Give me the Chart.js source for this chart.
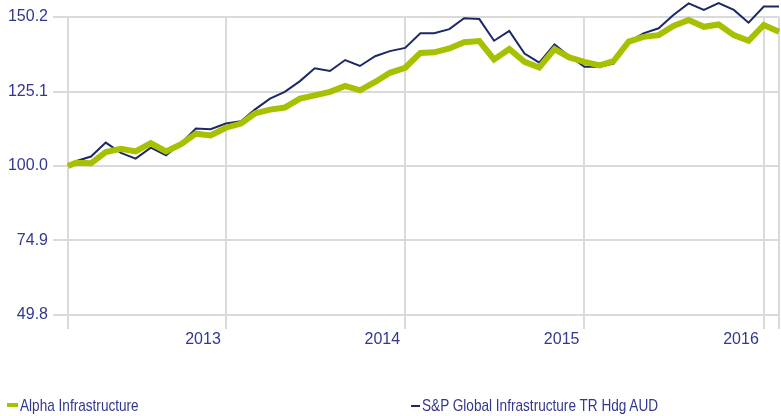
<!DOCTYPE html>
<html>
<head>
<meta charset="utf-8">
<script src="https://cdn.jsdelivr.net/npm/chart.js@4.4.1/dist/chart.umd.min.js"></script>
<style>
    body { margin: 0; background: #fff; }
    #wrap { position: relative; width: 781px; height: 416px; }
    #legend {
        position: absolute; left: 0; top: 396px; width: 781px; height: 20px;
        font-family: 'Liberation Sans', Arial, sans-serif;
        font-size: 17px; color: #33388f;
    }
    .item { position: absolute; top: 0; white-space: nowrap; line-height: 20px; }
    .mark { position: absolute; left: 0; }
    .txt { display: inline-block; transform: scaleX(0.8); transform-origin: left center; }
</style>
</head>
<body>
<div id="wrap">
    <canvas id="lineChart" width="781" height="416"></canvas>
    <div id="legend"></div>
</div>
<script>
// Dates (start point, then month ends)
const dates = [
    '2012-02-13', '2012-02-29', '2012-03-31', '2012-04-30', '2012-05-31', '2012-06-30',
    '2012-07-31', '2012-08-31', '2012-09-30', '2012-10-31', '2012-11-30', '2012-12-31',
    '2013-01-31', '2013-02-28', '2013-03-31', '2013-04-30', '2013-05-31', '2013-06-30',
    '2013-07-31', '2013-08-31', '2013-09-30', '2013-10-31', '2013-11-30', '2013-12-31',
    '2014-01-31', '2014-02-28', '2014-03-31', '2014-04-30', '2014-05-31', '2014-06-30',
    '2014-07-31', '2014-08-31', '2014-09-30', '2014-10-31', '2014-11-30', '2014-12-31',
    '2015-01-31', '2015-02-28', '2015-03-31', '2015-04-30', '2015-05-31', '2015-06-30',
    '2015-07-31', '2015-08-31', '2015-09-30', '2015-10-31', '2015-11-30', '2015-12-31',
    '2016-01-31'
];

const alphaValues = [
    100.0, 101.1, 100.9, 104.7, 105.8, 104.9, 107.7, 104.9, 107.3, 110.9, 110.3, 112.9,
    114.3, 117.7, 119.0, 119.7, 122.7, 123.8, 125.0, 127.0, 125.5, 128.3, 131.4, 133.1,
    138.1, 138.3, 139.6, 141.7, 142.1, 135.9, 139.4, 135.1, 133.2, 139.4, 136.6, 135.1,
    133.9, 135.3, 141.9, 143.5, 144.1, 147.2, 149.2, 146.9, 147.7, 144.1, 142.2, 147.5,
    145.2
];

const benchValues = [
    100.0, 101.6, 103.2, 107.9, 104.4, 102.5, 106.2, 103.6, 107.5, 112.6, 112.4, 114.3,
    115.1, 119.0, 122.7, 125.0, 128.6, 132.9, 132.0, 135.7, 133.7, 137.0, 138.7, 139.8,
    144.7, 144.7, 146.1, 149.8, 149.5, 142.2, 145.5, 137.9, 134.8, 141.0, 137.0, 133.4,
    133.4, 134.5, 141.9, 144.7, 146.4, 150.9, 154.8, 152.6, 154.9, 152.6, 148.3, 153.7,
    153.7
];

const yTicks = [49.8, 74.9, 100.0, 125.1, 150.2];
const yearTicks = [2013, 2014, 2015, 2016];

const labelColor = '#33388f';
const gridColor = '#dadada';
const fontFamily = "'Liberation Sans', Arial, sans-serif";

// date string -> fractional year (end of that day)
function toYear(str) {
    const d = new Date(str + 'T00:00:00Z');
    const y = d.getUTCFullYear();
    const start = Date.UTC(y, 0, 1);
    const end = Date.UTC(y + 1, 0, 1);
    return y + (d.getTime() + 86400000 - start) / (end - start);
}

const xs = dates.map(toYear);
const xMin = xs[0];
const xMax = xs[xs.length - 1];

const data = {
    datasets: [
        {
            label: 'Alpha Infrastructure',
            data: xs.map((x, i) => ({ x: x, y: alphaValues[i] })),
            borderColor: '#a7c000',
            borderWidth: 6,
            pointRadius: 0,
            tension: 0,
            clip: false
        },
        {
            label: 'S&P Global Infrastructure TR Hdg AUD',
            data: xs.map((x, i) => ({ x: x, y: benchValues[i] })),
            borderColor: '#1b2966',
            borderWidth: 2,
            pointRadius: 0,
            tension: 0,
            clip: false
        }
    ]
};

const config = {
    type: 'line',
    data: data,
    options: {
        responsive: false,
        animation: false,
        layout: { padding: { top: 17, right: 2, bottom: 61, left: 0 } },
        plugins: {
            legend: { display: false },
            tooltip: { enabled: false }
        },
        scales: {
            x: {
                type: 'linear',
                min: xMin,
                max: xMax,
                afterBuildTicks: (scale) => {
                    scale.ticks = [xMin, ...yearTicks, xMax].map(v => ({ value: v }));
                },
                afterFit: (scale) => { scale.height = 40; },
                grid: { color: gridColor, lineWidth: 2, tickLength: 14 },
                border: { display: false },
                ticks: {
                    color: labelColor,
                    font: { family: fontFamily, size: 16 },
                    autoSkip: false,
                    maxRotation: 0,
                    align: 'end',
                    labelOffset: -5,
                    padding: 1,
                    callback: (v) => yearTicks.includes(v) ? String(v) : ''
                }
            },
            y: {
                type: 'linear',
                min: yTicks[0],
                max: yTicks[yTicks.length - 1],
                afterBuildTicks: (scale) => {
                    scale.ticks = yTicks.map(v => ({ value: v }));
                },
                afterFit: (scale) => { scale.width = 68; },
                grid: { color: gridColor, lineWidth: 2, tickLength: 15 },
                border: { display: false },
                ticks: {
                    color: labelColor,
                    font: { family: fontFamily, size: 16 },
                    padding: 5,
                    callback: (v) => Number(v).toFixed(1)
                }
            }
        }
    }
};

const lineChart = new Chart(document.getElementById('lineChart'), config);

// HTML legend under the chart
const legendPos = [
    { left: 7, markW: 11, markH: 4, markTop: 7 },
    { left: 411, markW: 9, markH: 2.5, markTop: 8.5 }
];
const legendDiv = document.getElementById('legend');
data.datasets.forEach((ds, i) => {
    const p = legendPos[i];
    const item = document.createElement('div');
    item.className = 'item';
    item.style.left = p.left + 'px';
    item.style.paddingLeft = (p.markW + 2) + 'px';
    const mark = document.createElement('span');
    mark.className = 'mark';
    mark.style.width = p.markW + 'px';
    mark.style.height = p.markH + 'px';
    mark.style.top = p.markTop + 'px';
    mark.style.background = ds.borderColor;
    const txt = document.createElement('span');
    txt.className = 'txt';
    txt.textContent = ds.label;
    item.appendChild(mark);
    item.appendChild(txt);
    legendDiv.appendChild(item);
});
</script>
</body>
</html>
